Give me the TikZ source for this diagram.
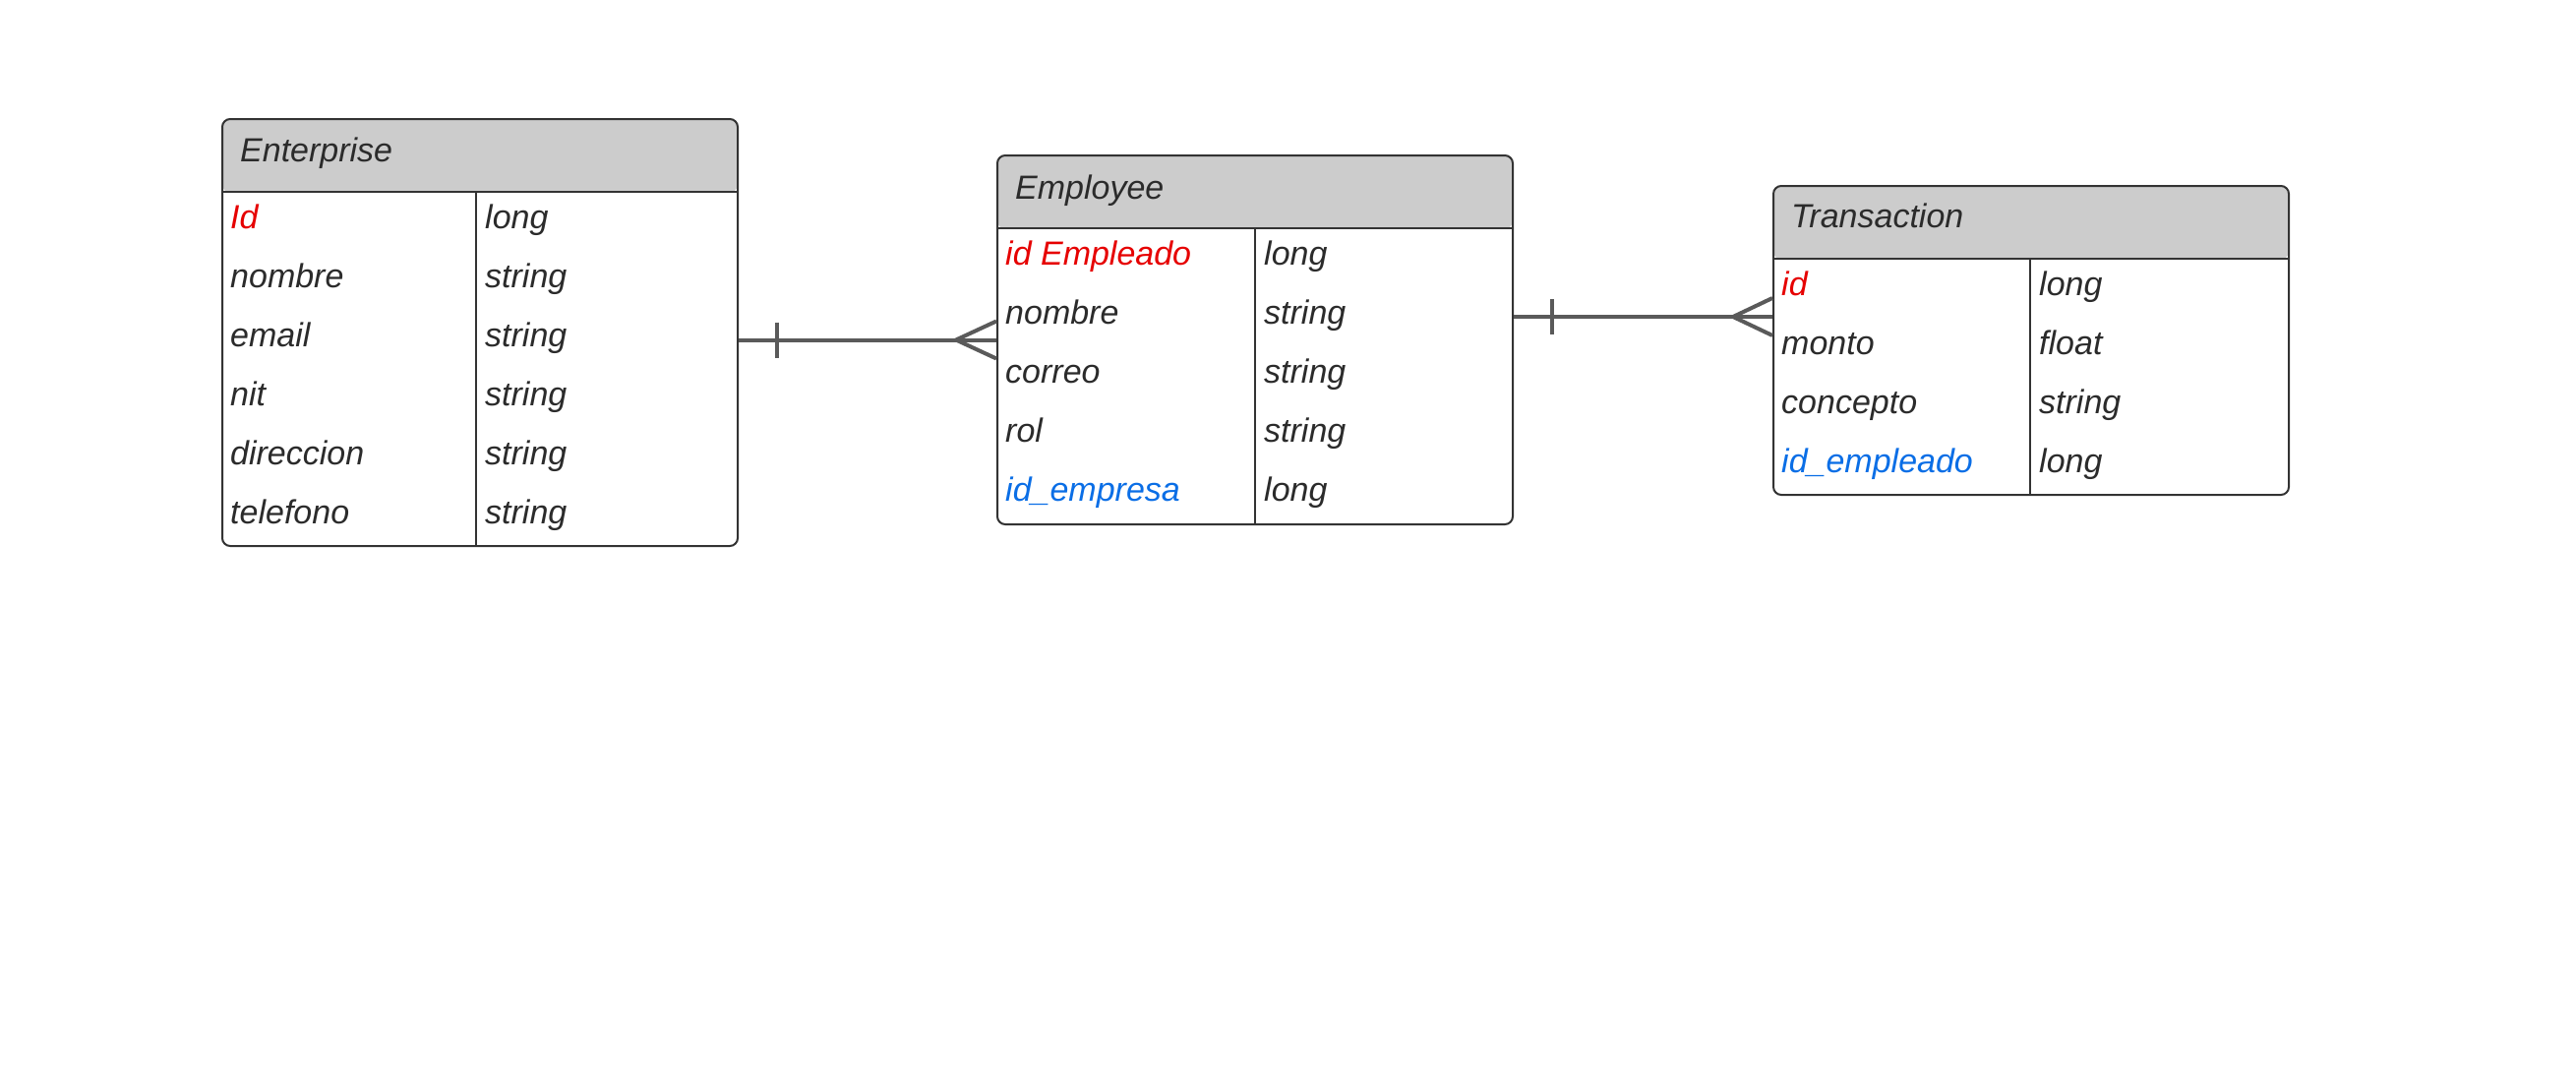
\documentclass[tikz,border=0pt]{standalone}
\usepackage{fontspec}
\setmainfont{Liberation Sans}
\definecolor{hdr}{HTML}{CCCCCC}
\definecolor{bord}{HTML}{333333}
\definecolor{txt}{HTML}{2B2B2B}
\definecolor{pk}{HTML}{E60000}
\definecolor{fk}{HTML}{0A6EE6}
\definecolor{conn}{HTML}{5A5A5A}
\begin{document}
\begin{tikzpicture}[x=1pt,y=-1pt,
  tbl/.style={draw=bord, line width=2pt, rounded corners=8pt, minimum width=524pt,
    inner sep=0pt, anchor=north west,
    path picture={\fill[hdr] (path picture bounding box.north west) rectangle ([yshift=-74.5pt]path picture bounding box.north east);}},
  sep/.style={draw=bord, line width=2pt},
  title/.style={anchor=base west, inner sep=0pt, text=txt, font=\itshape\fontsize{34}{40}\selectfont},
  field/.style={anchor=base west, inner sep=0pt, text=txt, font=\itshape\fontsize{34}{40}\selectfont},
  conn/.style={draw=conn, line width=4pt},
  bar/.style={draw=conn, line width=3.5pt}]
\fill[white] (0,0) rectangle (2619,1106);
\useasboundingbox (0,0) rectangle (2619,1106);

% Enterprise
\node[tbl, minimum height=434pt] (ent) at (225,120) {};
\draw[sep] (225,194.5) -- (749,194.5);
\draw[sep] (484,194.5) -- (484,554);
\node[title] (ent-t) at (244,164) {Enterprise};
\foreach \c/\n/\t [count=\i from 0] in {pk/Id/long, txt/nombre/string, txt/email/string, txt/nit/string, txt/direccion/string, txt/telefono/string}{
  \node[field, text=\c] (ent-a\i) at (234,232+60*\i) {\n};
  \node[field] (ent-b\i) at (493,232+60*\i) {\t};
}

% Employee
\node[tbl, minimum height=375pt] (emp) at (1013,157) {};
\draw[sep] (1013,232) -- (1538,232);
\draw[sep] (1276,232) -- (1276,532);
\node[title] (emp-t) at (1032,202) {Employee};
\foreach \c/\n/\t [count=\i from 0] in {pk/id Empleado/long, txt/nombre/string, txt/correo/string, txt/rol/string, fk/id\_empresa/long}{
  \node[field, text=\c] (emp-a\i) at (1022,269+60*\i) {\n};
  \node[field] (emp-b\i) at (1285,269+60*\i) {\t};
}

% Transaction
\node[tbl, minimum height=314pt] (trn) at (1802,188) {};
\draw[sep] (1802,263) -- (2327,263);
\draw[sep] (2064,263) -- (2064,502);
\node[title] (trn-t) at (1821,231) {Transaction};
\foreach \c/\n/\t [count=\i from 0] in {pk/id/long, txt/monto/float, txt/concepto/string, fk/id\_empleado/long}{
  \node[field, text=\c] (trn-a\i) at (1811,300+60*\i) {\n};
  \node[field] (trn-b\i) at (2073,300+60*\i) {\t};
}

% Enterprise -- Employee (one to many)
\draw[conn] (ent.east |- emp.west) -- (emp.west);
\draw[bar] ([xshift=39pt]ent.east |- emp.west) ++(0,-18) -- ++(0,36);
\draw[conn] ([yshift=19pt]emp.west) -- ([xshift=-41pt]emp.west) -- ([yshift=-19pt]emp.west);

% Employee -- Transaction (one to many)
\coordinate (r2) at (1670,322);
\draw[conn] (emp.east |- r2) -- (trn.west |- r2);
\draw[bar] ([xshift=39pt]emp.east |- r2) ++(0,-18) -- ++(0,36);
\draw[conn] ([yshift=19pt]trn.west |- r2) -- ([xshift=-40pt]trn.west |- r2) -- ([yshift=-19pt]trn.west |- r2);
\end{tikzpicture}
\end{document}
